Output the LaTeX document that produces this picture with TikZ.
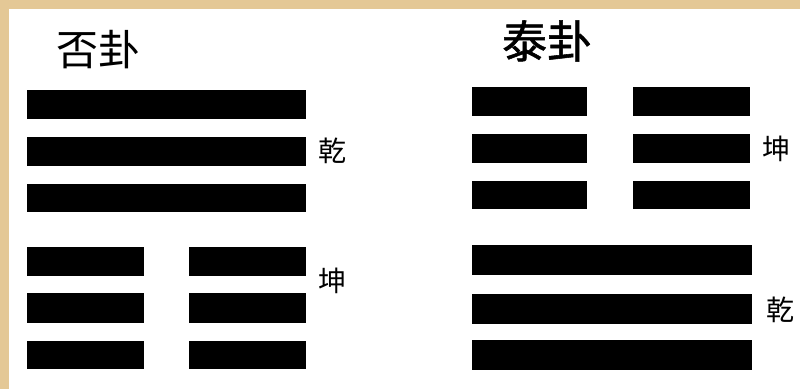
\documentclass[tikz,border=0pt]{standalone}
\usepackage{fontspec}
\newfontfamily\cjk{Noto Sans CJK SC}
\newfontfamily\cjkb[FakeBold=1.2]{Noto Sans CJK SC}
\definecolor{parch}{RGB}{228,200,150}
\begin{document}
\begin{tikzpicture}[x=1pt,y=-1pt,
  yao/.style={fill=black},
  title/.style={inner sep=0pt,font=\cjk\fontsize{42}{42}\selectfont},
  gua/.style={inner sep=0pt,font=\cjk\fontsize{28}{28}\selectfont}]
\useasboundingbox (0,0) rectangle (800,389);
\fill[parch] (0,0) rectangle (800,389);
\fill[white] (9,9) rectangle (800,389);
% Left hexagram (Pi)
\node[title] (piT) at (98,50) {否卦};
\fill[yao] (27,90) rectangle (306,119);
\fill[yao] (27,137) rectangle (306,166);
\fill[yao] (27,184) rectangle (306,212);
\fill[yao] (27,247) rectangle (144,276);
\fill[yao] (189,247) rectangle (306,276);
\fill[yao] (27,293) rectangle (144,323);
\fill[yao] (189,293) rectangle (306,323);
\fill[yao] (27,341) rectangle (144,369);
\fill[yao] (189,341) rectangle (306,369);
\node[gua] (piQian) at (332,151) {乾};
\node[gua] (piKun) at (332,281) {坤};
% Right hexagram (Tai)
\node[title,font=\cjkb\fontsize{45}{45}\selectfont] (taiT) at (547,41) {泰卦};
\fill[yao] (472,87) rectangle (587,116);
\fill[yao] (633,87) rectangle (750,116);
\fill[yao] (472,134) rectangle (587,163);
\fill[yao] (633,134) rectangle (750,163);
\fill[yao] (472,181) rectangle (587,209);
\fill[yao] (633,181) rectangle (750,209);
\fill[yao] (472,245) rectangle (752,275);
\fill[yao] (472,294) rectangle (752,324);
\fill[yao] (472,340) rectangle (752,370);
\node[gua] (taiKun) at (776,149) {坤};
\node[gua] (taiQian) at (780,310) {乾};
\end{tikzpicture}
\end{document}
